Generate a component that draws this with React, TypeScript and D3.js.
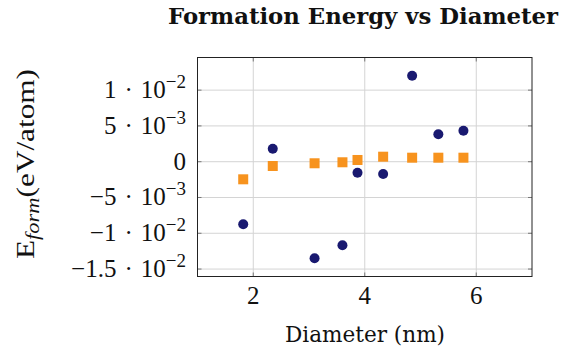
import React from "react";
import * as d3 from "d3";

const diameters = [1.82, 2.35, 3.10, 3.60, 3.87, 4.33, 4.85, 5.32, 5.77];
const seriesA = [-0.00874, 0.00182, -0.01349, -0.01168, -0.00154, -0.00172, 0.01201, 0.00383, 0.00433];
const seriesB = [-0.00246, -0.0006, -0.00022, -0.00008, 0.00024, 0.0007, 0.00056, 0.00056, 0.00056];
const xTicks = [2, 4, 6];
const yTicks = [-0.015, -0.01, -0.005, 0, 0.005, 0.01];
const yTickMantissa = ["−1.5", "−1", "−5", "0", "5", "1"];
const yTickExponent = ["−2", "−2", "−3", "", "−3", "−2"];
const xDomain = [1, 7];

const W = 562, H = 351;
const L = 197.5, R = 532, T = 57.5, B = 276.5;

export default function App() {
  const all = [...seriesA, ...seriesB];
  const mn = d3.min(all)!, mx = d3.max(all)!;
  const pad = (mx - mn) * 0.1;
  const x = d3.scaleLinear().domain(xDomain).range([L, R]);
  const y = d3.scaleLinear().domain([mn - pad, mx + pad]).range([B, T]);
  const tickFont = "'Liberation Serif', serif";
  const grid = "#d4d4d4";
  const tickCol = "#777";
  return (
    <svg width={W} height={H} style={{ position: "absolute", left: 0, top: 0, background: "#fff" }}>
      <text x={363} y={24} textAnchor="middle" fontFamily="'DejaVu Serif', serif" fontWeight="bold" fontSize={22} textLength={390} lengthAdjust="spacingAndGlyphs" fill="#111">
        Formation Energy vs Diameter
      </text>
      {xTicks.map((t) => (
        <line key={"gx" + t} x1={x(t)} x2={x(t)} y1={T} y2={B} stroke={grid} strokeWidth={1} />
      ))}
      {yTicks.map((t) => (
        <line key={"gy" + t} x1={L} x2={R} y1={y(t)} y2={y(t)} stroke={grid} strokeWidth={1} />
      ))}
      {xTicks.map((t) => (
        <g key={"tx" + t}>
          <line x1={x(t)} x2={x(t)} y1={B} y2={B - 4} stroke={tickCol} />
          <line x1={x(t)} x2={x(t)} y1={T} y2={T + 4} stroke={tickCol} />
        </g>
      ))}
      {yTicks.map((t) => (
        <g key={"ty" + t}>
          <line x1={L} x2={L + 4} y1={y(t)} y2={y(t)} stroke={tickCol} />
          <line x1={R} x2={R - 4} y1={y(t)} y2={y(t)} stroke={tickCol} />
        </g>
      ))}
      {diameters.map((d, i) => (
        <circle key={"a" + i} cx={x(d)} cy={y(seriesA[i])} r={5} fill="#191970" />
      ))}
      {diameters.map((d, i) => (
        <rect key={"b" + i} x={x(d) - 5} y={y(seriesB[i]) - 5} width={10} height={10} fill="#F7931E" />
      ))}
      <rect x={L} y={T} width={R - L} height={B - T} fill="none" stroke="#222" strokeWidth={1} />
      {xTicks.map((t) => (
        <text key={"lx" + t} x={x(t)} y={304} textAnchor="middle" fontFamily={tickFont} fontSize={25} fill="#111">
          {t}
        </text>
      ))}
      {yTicks.map((t, i) => (
        <text key={"ly" + i} x={186} y={y(t) + 8} textAnchor="end" fontFamily={tickFont} fontSize={25} fill="#111">
          {yTickExponent[i] === "" ? (
            yTickMantissa[i]
          ) : (
            <>
              <tspan>{yTickMantissa[i]}</tspan>
              <tspan dx={8}>·</tspan>
              <tspan dx={8}>10</tspan>
              <tspan fontSize={19} dy={-10}>{yTickExponent[i]}</tspan>
            </>
          )}
        </text>
      ))}
      <text x={365} y={342} textAnchor="middle" fontFamily="'DejaVu Serif', serif" fontSize={22} textLength={160} lengthAdjust="spacingAndGlyphs" fill="#111">
        Diameter (nm)
      </text>
      <text transform="translate(34,164) rotate(-90)" textAnchor="middle" fontFamily={tickFont} fontSize={25} fill="#111" textLength={190} lengthAdjust="spacingAndGlyphs">
        <tspan>E</tspan>
        <tspan fontSize={18} fontStyle="italic" dy={5}>form</tspan>
        <tspan dy={-5}>(eV/atom)</tspan>
      </text>
    </svg>
  );
}
